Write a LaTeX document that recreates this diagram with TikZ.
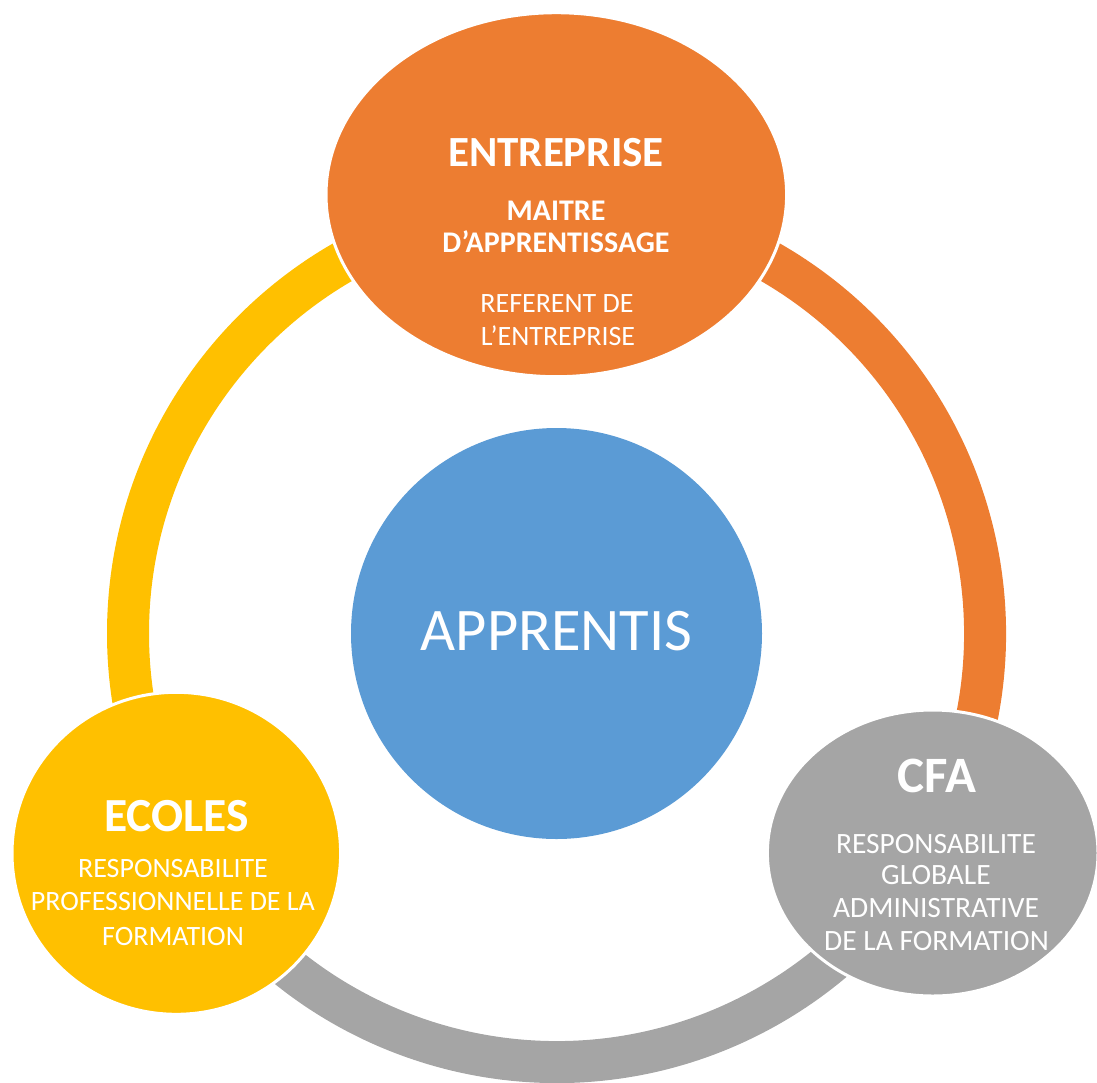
\documentclass[tikz,border=0pt]{standalone}
\usepackage{fontspec}
\setmainfont{Carlito}
\usetikzlibrary{shapes.geometric}
\definecolor{corange}{HTML}{ED7D31}
\definecolor{cyellow}{HTML}{FFC000}
\definecolor{cgray}{HTML}{A5A5A5}
\definecolor{cblue}{HTML}{5B9BD5}
\tikzset{
  blob/.style={shape=ellipse, draw=white, line width=3pt, inner sep=0pt},
  ringarc/.style={line width=42pt},
  lbl/.style={text=white, anchor=base, inner sep=0pt, outer sep=0pt},
  hbig/.style={lbl, font=\bfseries\fontsize{43}{50}\selectfont},
  hmid/.style={lbl, font=\bfseries\fontsize{30}{34}\selectfont},
  body/.style={lbl, font=\fontsize{28}{32}\selectfont},
  cbody/.style={lbl, font=\fontsize{29.5}{34}\selectfont},
}
\begin{document}
\begin{tikzpicture}[x=1pt,y=1pt]
\useasboundingbox (0,0) rectangle (1097,-1082);
\coordinate (c) at (556.5,-633.5);
% ring arcs
\draw[ringarc, cyellow] ([shift={(90:428.5pt)}]c) arc[start angle=90, end angle=210, radius=428.5pt];
\draw[ringarc, corange] ([shift={(-30:428.5pt)}]c) arc[start angle=-30, end angle=90, radius=428.5pt];
\draw[ringarc, cgray] ([shift={(210:428.5pt)}]c) arc[start angle=210, end angle=330, radius=428.5pt];
% centre
\node[shape=circle, fill=cblue, minimum size=411pt, inner sep=0pt] (app) at (c) {};
% outer nodes
\node[blob, fill=corange, minimum width=460.6pt, minimum height=364pt] (ent) at (556.3,-194.7) {};
\node[blob, fill=cgray, minimum width=330.6pt, minimum height=286pt] (cfa) at (932.7,-853) {};
\node[blob, fill=cyellow, minimum width=328.6pt, minimum height=322pt] (eco) at (176.3,-853.3) {};
% texts
\node[lbl, font=\fontsize{60.5}{70}\selectfont] (tapp) at (556.5,-650.7) {APPRENTIS};
\node[hbig] (tent) at (556,-166) {ENTREPRISE};
\node[hmid] (tma1) at (556,-220) {MAITRE};
\node[hmid] (tma2) at (556,-252.3) {D’APPRENTISSAGE};
\node[body] (tre1) at (557,-312) {REFERENT DE};
\node[body] (tre2) at (558,-345) {L’ENTREPRISE};
\node[hbig, font=\bfseries\fontsize{51}{60}\selectfont] (tcfa) at (937,-792.7) {CFA};
\node[cbody] (tc1) at (936,-853.3) {RESPONSABILITE};
\node[cbody] (tc2) at (936,-884) {GLOBALE};
\node[cbody] (tc3) at (936,-917.3) {ADMINISTRATIVE};
\node[cbody] (tc4) at (936.5,-950) {DE LA FORMATION};
\node[hbig, font=\bfseries\fontsize{47.5}{56}\selectfont] (teco) at (176.7,-831.7) {ECOLES};
\node[body] (te1) at (173,-877.3) {RESPONSABILITE};
\node[body] (te2) at (173,-910.7) {PROFESSIONNELLE DE LA};
\node[body] (te3) at (173,-945) {FORMATION};
\end{tikzpicture}
\end{document}
